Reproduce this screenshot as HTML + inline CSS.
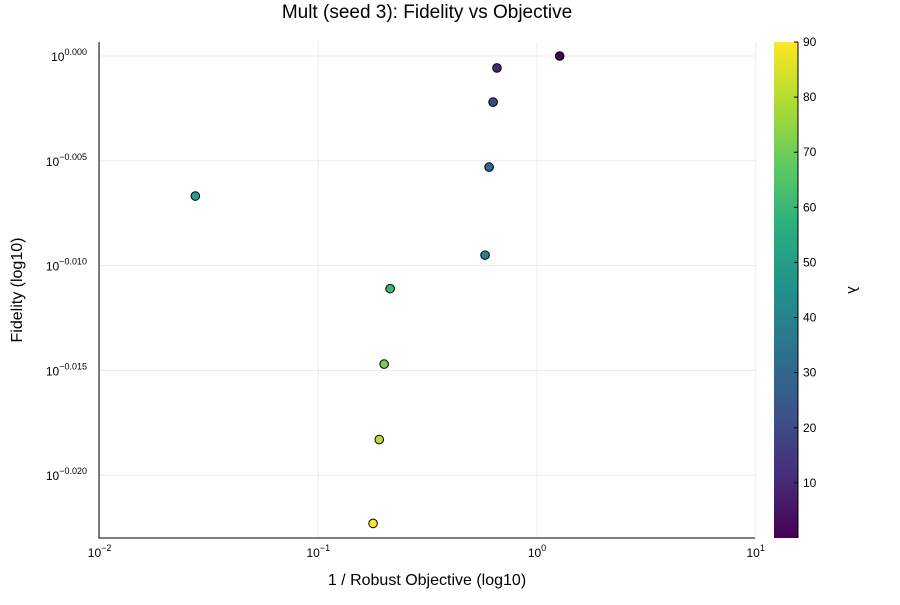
<!DOCTYPE html>
<html><head><meta charset="utf-8"><style>
body{margin:0;background:#fff;font-family:"Liberation Sans","DejaVu Sans",sans-serif}
svg text{font-family:"Liberation Sans","DejaVu Sans",sans-serif}
</style></head><body>
<svg id="c" width="900" height="600" xmlns="http://www.w3.org/2000/svg">
<defs><linearGradient id="vir" x1="0" y1="1" x2="0" y2="0">
<stop offset="0" stop-color="#440154"/><stop offset="0.125" stop-color="#472d7b"/><stop offset="0.25" stop-color="#3b528b"/><stop offset="0.375" stop-color="#2c728e"/><stop offset="0.5" stop-color="#21918c"/><stop offset="0.625" stop-color="#28ae80"/><stop offset="0.75" stop-color="#5ec962"/><stop offset="0.875" stop-color="#addc30"/><stop offset="1" stop-color="#fde725"/></linearGradient></defs>
<text x="427" y="18" text-anchor="middle" font-size="19" fill="#000">Mult (seed 3): Fidelity vs Objective</text>
<text x="427" y="585" text-anchor="middle" font-size="16">1 / Robust Objective (log10)</text>
<text transform="translate(22,290) rotate(-90)" text-anchor="middle" font-size="16">Fidelity (log10)</text>
<text transform="translate(848,290) rotate(90)" text-anchor="middle" font-size="15">λ</text>
<g id="grid"></g><g id="axes"></g><g id="pts"></g><g id="cbar"></g>
</svg>
<script>
const xTicks=[-2,-1,0,1];
const yTicks=[0,-0.005,-0.010,-0.015,-0.020];
const yTickLabels=["0.000","−0.005","−0.010","−0.015","−0.020"];
const xVals=[1.27,0.656,0.63,0.604,0.0274,0.579,0.213,0.2,0.19,0.178];
const yVals=[0,-0.00057,-0.0022,-0.0053,-0.00668,-0.0095,-0.0111,-0.0147,-0.0183,-0.0223];
const lambdas=[1,10,20,30,50,40,60,70,80,90];
const cbTicks=[10,20,30,40,50,60,70,80,90];
const L=99,R=755,T=42,B=538;
const X=v=>537+Math.log10(v)*218.7;
const XL=l=>537+l*218.7;
const Y=l=>56-l/0.005*104.8;
const CB=v=>538-v/90*496;
const NS="http://www.w3.org/2000/svg";
function mk(t,a,p,txt){const e=document.createElementNS(NS,t);for(const k in a)e.setAttribute(k,a[k]);if(txt!==undefined)e.textContent=txt;document.getElementById(p).appendChild(e);return e;}
const stops=["#440154","#472d7b","#3b528b","#2c728e","#21918c","#28ae80","#5ec962","#addc30","#fde725"];
function hex(h){return [1,3,5].map(i=>parseInt(h.substr(i,2),16));}
function col(v){let t=Math.max(0,Math.min(1,v/90))*8;let i=Math.min(7,Math.floor(t));let f=t-i;const a=hex(stops[i]),b=hex(stops[i+1]);return "rgb("+a.map((c,k)=>Math.round(c+(b[k]-c)*f)).join(",")+")";}
xTicks.forEach(t=>{const x=XL(t);
const g=mk("line",{x1:x,x2:x,y1:T,y2:B,stroke:"#ececec","stroke-width":1},"grid");

const tx=mk("text",{x:x,y:557,"text-anchor":"middle","font-size":12},"axes");

tx.innerHTML='10<tspan dy="-6" font-size="9">'+(t<0?"−"+(-t):t)+'</tspan>';});
yTicks.forEach((t,i)=>{const y=Y(t);
const g=mk("line",{x1:L,x2:R,y1:y,y2:y,stroke:"#ececec","stroke-width":1},"grid");

const tx=mk("text",{x:87,y:y+5,"text-anchor":"end","font-size":12},"axes");

tx.innerHTML='10<tspan dy="-6" font-size="9">'+yTickLabels[i]+'</tspan>';});
const ax=mk("path",{d:`M${L},${T}V${B}H${R}`,fill:"none",stroke:"#000","stroke-width":1},"axes");

xVals.forEach((v,i)=>{const c=mk("circle",{cx:X(v),cy:Y(yVals[i]),r:4.3,fill:col(lambdas[i]),stroke:"#000","stroke-width":1},"pts");
});
const r=mk("rect",{x:774,y:T,width:24,height:B-T,fill:"url(#vir)"},"cbar");

const cl=mk("line",{x1:798,x2:798,y1:T,y2:B,stroke:"#000","stroke-width":1},"cbar");

cbTicks.forEach(v=>{const y=CB(v);
const tl=mk("line",{x1:794,x2:798,y1:y,y2:y,stroke:"#000"},"cbar");

const tx=mk("text",{x:803,y:y+4,"font-size":12},"cbar",String(v));
});
</script>
</body></html>
